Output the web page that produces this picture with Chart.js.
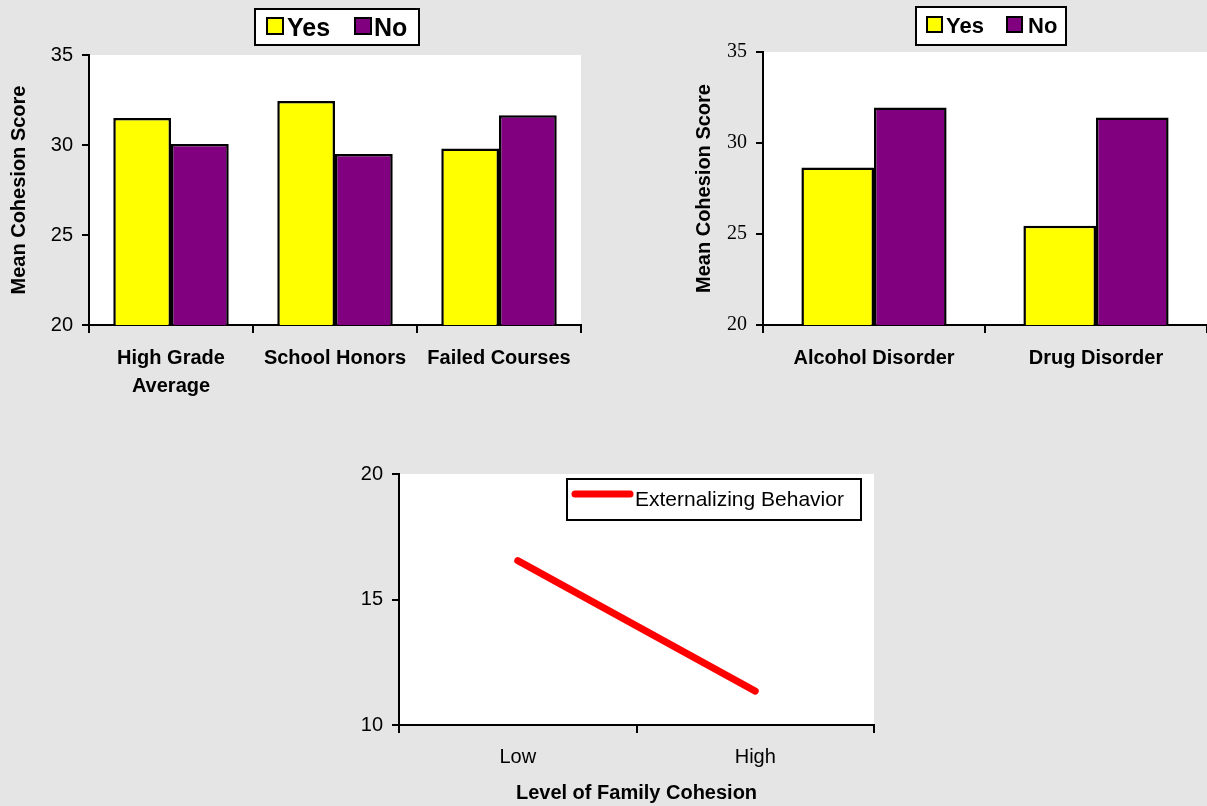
<!DOCTYPE html>
<html>
<head>
<meta charset="utf-8">
<script src="https://cdn.jsdelivr.net/npm/chart.js@4/dist/chart.umd.min.js"></script>
<style>
  html, body { margin: 0; padding: 0; background: #E5E5E5; }
  body { width: 1207px; height: 806px; position: relative; overflow: hidden; }
  .panel { position: absolute; }
</style>
</head>
<body>
<div class="panel" style="left:0;top:0;width:600px;height:400px"><canvas id="school" width="600" height="400"></canvas></div>
<div class="panel" style="left:600px;top:0;width:607px;height:400px"><canvas id="disorder" width="607" height="400"></canvas></div>
<div class="panel" style="left:300px;top:450px;width:600px;height:356px"><canvas id="behavior" width="600" height="356"></canvas></div>
<script>
// School outcomes by group
const schoolCategories = [['High Grade', 'Average'], 'School Honors', 'Failed Courses'];
const schoolYes = [31.5, 32.45, 29.8];
const schoolNo = [30.05, 29.5, 31.65];

// Substance disorders by group
const disorderCategories = ['Alcohol Disorder', 'Drug Disorder'];
const disorderYes = [28.65, 25.45];
const disorderNo = [31.95, 31.4];

// Externalizing behaviour against family cohesion
const cohesionLevels = ['Low', 'High'];
const externalizing = [16.55, 11.35];

const cohesionTicks = [20, 25, 30, 35];
const behaviorTicks = [10, 15, 20];

const SANS = 'Arial, "Liberation Sans", Helvetica, sans-serif';
const SERIF = '"Times New Roman", "Liberation Serif", Times, serif';
const YELLOW = '#FFFF00';
const PURPLE = '#800080';

// white plotting area behind the marks
const plotBackground = {
  id: 'plotBackground',
  beforeDraw(chart) {
    const { ctx, chartArea: a } = chart;
    ctx.save();
    ctx.fillStyle = '#FFFFFF';
    ctx.fillRect(a.left, a.top, a.right - a.left, a.bottom - a.top);
    ctx.restore();
  }
};

// framed legend placed at a fixed spot of the canvas
const boxLegend = {
  id: 'boxLegend',
  afterDraw(chart, args, o) {
    if (!o || !o.box) return;
    const ctx = chart.ctx;
    ctx.save();
    ctx.fillStyle = '#FFFFFF';
    ctx.fillRect(o.box.x, o.box.y, o.box.w, o.box.h);
    ctx.lineWidth = 2;
    ctx.strokeStyle = '#000000';
    ctx.strokeRect(o.box.x, o.box.y, o.box.w, o.box.h);
    ctx.font = o.font;
    ctx.fillStyle = '#000000';
    ctx.textBaseline = 'alphabetic';
    ctx.textAlign = 'left';
    chart.data.datasets.forEach((ds, i) => {
      const it = o.items[i];
      if (o.kind === 'line') {
        ctx.beginPath();
        ctx.lineCap = 'round';
        ctx.lineWidth = ds.borderWidth;
        ctx.strokeStyle = ds.borderColor;
        ctx.moveTo(it.x, it.y);
        ctx.lineTo(it.x + it.len, it.y);
        ctx.stroke();
      } else {
        ctx.fillStyle = ds.backgroundColor;
        ctx.fillRect(it.x, it.y, it.size, it.size);
        ctx.lineWidth = 2;
        ctx.strokeStyle = '#000000';
        ctx.strokeRect(it.x, it.y, it.size, it.size);
      }
      ctx.fillStyle = '#000000';
      ctx.fillText(ds.label, it.tx, it.ty);
    });
    ctx.restore();
  }
};

Chart.register(plotBackground, boxLegend);

function axisGrid(len) {
  return { drawOnChartArea: false, drawTicks: true, tickLength: len, color: '#000000', lineWidth: 2 };
}

function barChart(id, cats, yes, no, cfg) {
  return new Chart(document.getElementById(id), {
    type: 'bar',
    data: {
      labels: cats,
      datasets: [
        { label: 'Yes', data: yes, backgroundColor: YELLOW, borderColor: '#000000', borderWidth: 2.5, borderSkipped: false },
        { label: 'No', data: no, backgroundColor: PURPLE, borderColor: '#000000', borderWidth: 2.5, borderSkipped: false }
      ]
    },
    options: {
      responsive: false,
      animation: false,
      devicePixelRatio: 1,
      layout: { padding: cfg.padding },
      datasets: { bar: { categoryPercentage: cfg.catPct, barPercentage: 1 } },
      plugins: {
        legend: { display: false },
        tooltip: { enabled: false },
        boxLegend: cfg.legend
      },
      scales: {
        x: {
          grid: Object.assign(axisGrid(8), { offset: true }),
          border: { display: true, color: '#000000', width: 2 },
          ticks: {
            color: '#000000', autoSkip: false, maxRotation: 0, minRotation: 0, padding: 11,
            font: { family: SANS, size: 20, weight: 'bold', lineHeight: 1.4 }
          },
          afterFit(s) { s.height = cfg.xHeight; }
        },
        y: {
          min: 20, max: 35,
          afterBuildTicks(s) { s.ticks = cohesionTicks.map(v => ({ value: v })); },
          grid: axisGrid(7),
          border: { display: true, color: '#000000', width: 2 },
          ticks: { color: '#000000', padding: 9, font: { family: cfg.tickFamily, size: 20 } },
          title: {
            display: true, text: 'Mean Cohesion Score', color: '#000000',
            font: { family: SANS, size: 20, weight: 'bold' }, padding: { top: 7, bottom: 0 }
          },
          afterFit(s) { s.width = cfg.yWidth; }
        }
      }
    }
  });
}

barChart('school', schoolCategories, schoolYes, schoolNo, {
  padding: { left: 0, top: 55, right: 19, bottom: 0 },
  catPct: 0.704,
  xHeight: 75,
  yWidth: 89,
  tickFamily: SANS,
  legend: {
    kind: 'box',
    box: { x: 255, y: 9, w: 164, h: 36 },
    font: 'bold 25px ' + SANS,
    items: [
      { x: 267, y: 18, size: 16, tx: 287, ty: 36 },
      { x: 355, y: 18, size: 16, tx: 374, ty: 36 }
    ]
  }
});

barChart('disorder', disorderCategories, disorderYes, disorderNo, {
  padding: { left: 85, top: 52, right: 0, bottom: 0 },
  catPct: 0.654,
  xHeight: 75,
  yWidth: 78,
  tickFamily: SERIF,
  legend: {
    kind: 'box',
    box: { x: 316, y: 7, w: 150, h: 38 },
    font: 'bold 22px ' + SANS,
    items: [
      { x: 327, y: 17, size: 15, tx: 346, ty: 33 },
      { x: 407, y: 17, size: 15, tx: 428, ty: 33 }
    ]
  }
});

new Chart(document.getElementById('behavior'), {
  type: 'line',
  data: {
    labels: cohesionLevels,
    datasets: [{
      label: 'Externalizing Behavior', data: externalizing,
      borderColor: '#FF0000', backgroundColor: '#FF0000', borderWidth: 7,
      borderCapStyle: 'round', pointRadius: 0, fill: false, tension: 0
    }]
  },
  options: {
    responsive: false,
    animation: false,
    devicePixelRatio: 1,
    layout: { padding: { left: 0, top: 24, right: 26, bottom: 0 } },
    plugins: {
      legend: { display: false },
      tooltip: { enabled: false },
      boxLegend: {
        kind: 'line',
        box: { x: 267, y: 29, w: 294, h: 41 },
        font: '21px ' + SANS,
        items: [{ x: 275, y: 44, len: 55, tx: 335, ty: 56 }]
      }
    },
    scales: {
      x: {
        offset: true,
        grid: Object.assign(axisGrid(8), { offset: true }),
        border: { display: true, color: '#000000', width: 2 },
        ticks: { color: '#000000', padding: 12, font: { family: SANS, size: 20 } },
        title: {
          display: true, text: 'Level of Family Cohesion', color: '#000000',
          font: { family: SANS, size: 20, weight: 'bold' }, padding: { top: 0, bottom: 1 }
        },
        afterFit(s) { s.height = 81; }
      },
      y: {
        min: 10, max: 20,
        afterBuildTicks(s) { s.ticks = behaviorTicks.map(v => ({ value: v })); },
        grid: axisGrid(7),
        border: { display: true, color: '#000000', width: 2 },
        ticks: { color: '#000000', padding: 9, font: { family: SANS, size: 20 } },
        afterFit(s) { s.width = 99; }
      }
    }
  }
});
</script>
</body>
</html>
